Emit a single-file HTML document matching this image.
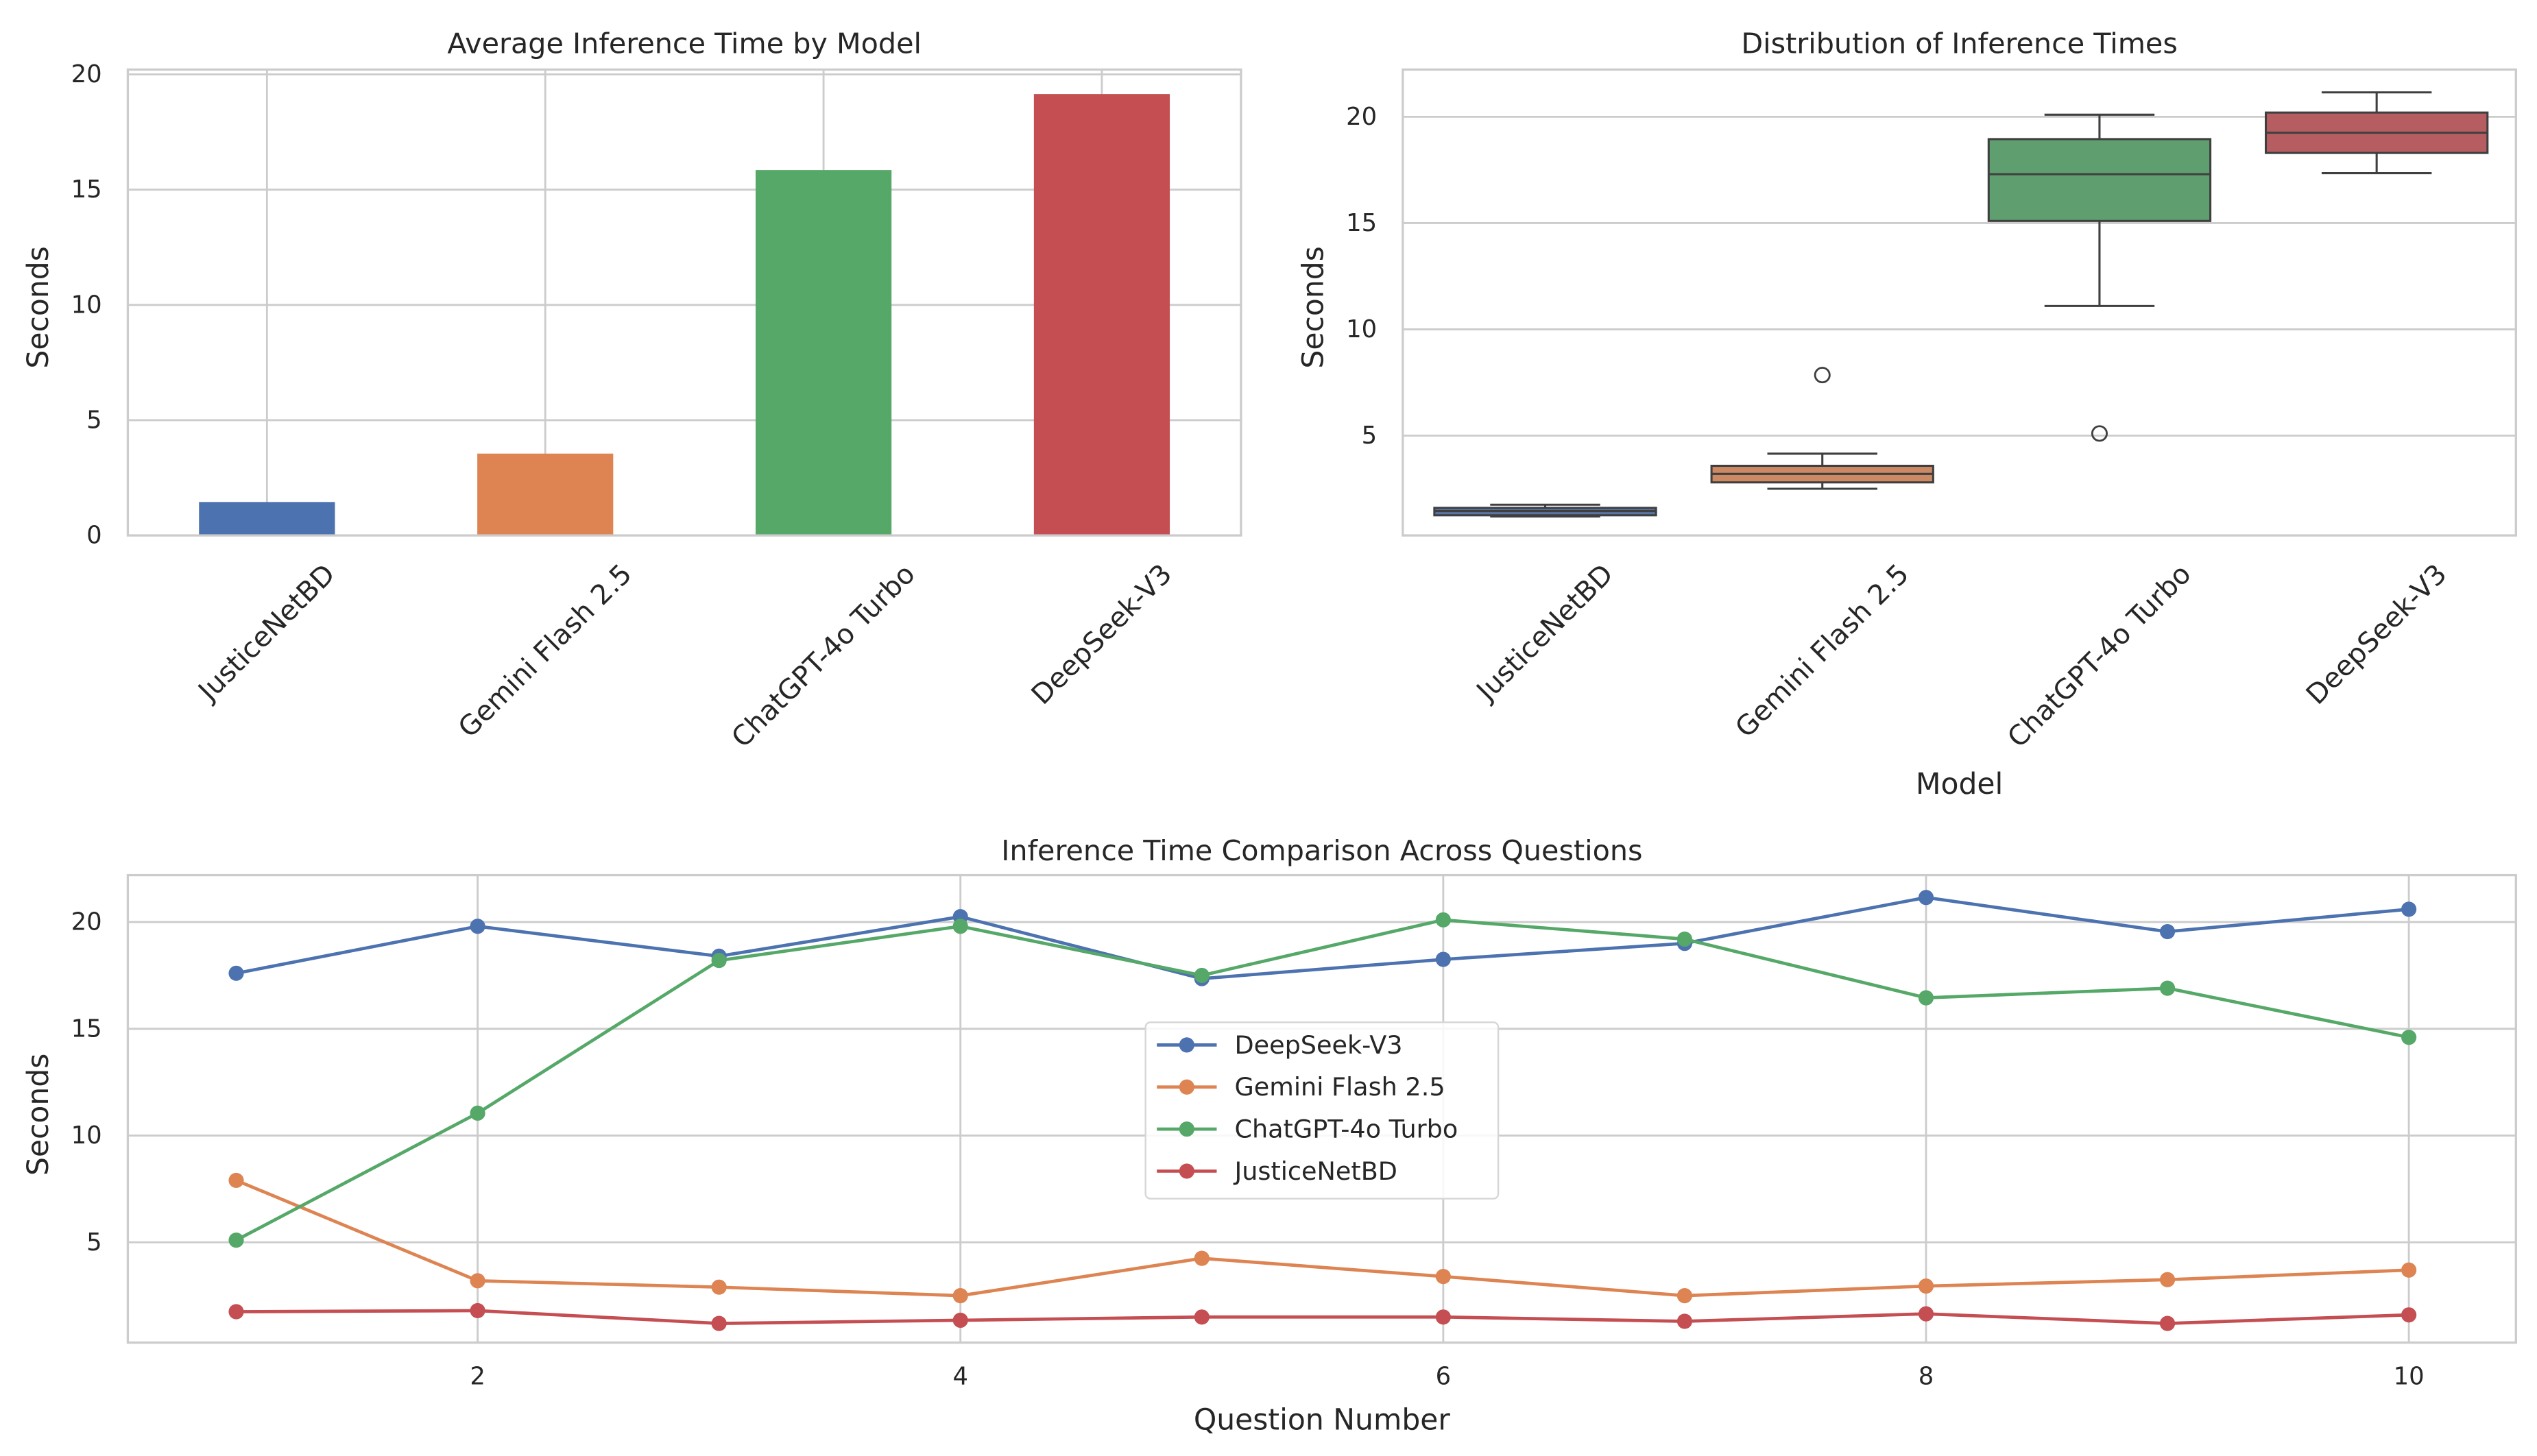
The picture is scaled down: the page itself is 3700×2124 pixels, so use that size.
<!DOCTYPE html>
<html><head><meta charset="utf-8">
<style>
html,body{margin:0;padding:0;background:#fff;}
svg{display:block;font-family:"DejaVu Sans","Liberation Sans",sans-serif;}
</style></head>
<body>
<svg id="fig" width="3700" height="2124" viewBox="0 0 1568 900.1" xmlns="http://www.w3.org/2000/svg">
<rect width="1568" height="900.1" fill="#fff"/>
</svg>
<script>
// ---- data ----
const models = ["JusticeNetBD","Gemini Flash 2.5","ChatGPT-4o Turbo","DeepSeek-V3"];
const avgTimes = [1.45, 3.55, 15.85, 19.15];
const barTicks = [0,5,10,15,20];
const boxQ1 = [1.25, 2.8, 15.1, 18.3];
const boxMedian = [1.45, 3.2, 17.3, 19.25];
const boxQ3 = [1.6, 3.58, 18.95, 20.2];
const boxLow = [1.2, 2.5, 11.1, 17.35];
const boxHigh = [1.75, 4.15, 20.1, 21.15];
const boxOutlierModel = [1, 2];
const boxOutlierValue = [7.85, 5.1];
const boxTicks = [5,10,15,20];
const questions = [1,2,3,4,5,6,7,8,9,10];
const deepseek = [17.6,19.8,18.4,20.25,17.35,18.25,19.0,21.15,19.55,20.6];
const gemini = [7.9,3.2,2.9,2.5,4.25,3.4,2.5,2.95,3.25,3.7];
const chatgpt = [5.1,11.05,18.2,19.8,17.5,20.1,19.2,16.45,16.9,14.6];
const justice = [1.75,1.8,1.2,1.35,1.5,1.5,1.3,1.65,1.2,1.6];
const lineXTicks = [2,4,6,8,10];
const lineYTicks = [5,10,15,20];

const NS="http://www.w3.org/2000/svg";
const svg=document.getElementById('fig');
function mk(tag,attrs,parent,text){const e=document.createElementNS(NS,tag);for(const k in attrs)e.setAttribute(k,attrs[k]);if(text!==undefined)e.textContent=text;(parent||svg).appendChild(e);return e;}
const GRID="#cccccc", TXT="#262626";
const C=["#4c72b0","#dd8452","#55a868","#c44e52"];
const CB=["#5975a4","#cc8963","#5f9e6e","#b55d60"];

function axesFrame(g,L,R,T,B){
  const r=mk('rect',{x:L,y:T,width:R-L,height:B-T,fill:'none',stroke:GRID,'stroke-width':1.4},g);
  
}
function rotLabel(g,text,cx,top){
  const t=mk('text',{x:0,y:0,'font-size':17,fill:TXT,'text-anchor':'middle','dominant-baseline':'central'},g,text);
  
  const w=t.getComputedTextLength(),h=17;
  const d=(w+h)*Math.SQRT1_2/2;
  t.setAttribute('transform',`translate(${cx},${top+d}) rotate(-45)`);
}

// ---- Chart 1: bar ----
(function(){
  const g=mk('g',{});
  const L=79,R=767,T=43,B=331;
  const y=v=>331-v*14.25;
  const x=i=>165+i*172;
  barTicks.forEach(v=>{
    const l=mk('line',{x1:L,x2:R,y1:y(v),y2:y(v),stroke:GRID,'stroke-width':1.2},g);
    const t=mk('text',{x:63,y:y(v),'font-size':15,fill:TXT,'text-anchor':'end','dominant-baseline':'central'},g,v);
  });
  models.forEach((m,i)=>{
    const l=mk('line',{x1:x(i),x2:x(i),y1:T,y2:B,stroke:GRID,'stroke-width':1.2},g);
  });
  models.forEach((m,i)=>{
    const r=mk('rect',{x:x(i)-42,y:y(avgTimes[i]),width:84,height:y(0)-y(avgTimes[i]),fill:C[i]},g);
    
    rotLabel(g,m,x(i),346);
  });
  axesFrame(g,L,R,T,B);
  const t=mk('text',{x:423,y:27,'font-size':17.5,fill:TXT,'text-anchor':'middle','dominant-baseline':'central'},g,'Average Inference Time by Model');
  const yl=mk('text',{x:0,y:0,'font-size':18,fill:TXT,'text-anchor':'middle','dominant-baseline':'central',transform:'translate(24,190) rotate(-90)'},g,'Seconds');
})();

// ---- Chart 2: box ----
(function(){
  const g=mk('g',{});
  const L=867,R=1555,T=43,B=331;
  const y=v=>335-v*13.14;
  const x=i=>955+i*171.3;
  boxTicks.forEach(v=>{
    const l=mk('line',{x1:L,x2:R,y1:y(v),y2:y(v),stroke:GRID,'stroke-width':1.2},g);
    const t=mk('text',{x:851,y:y(v),'font-size':15,fill:TXT,'text-anchor':'end','dominant-baseline':'central'},g,v);
  });
  const EC="#3f3f3f",hw=68.5;
  models.forEach((m,i)=>{
    const bg=mk('g',{},g);
    const cx=x(i);
    mk('line',{x1:cx,x2:cx,y1:y(boxQ3[i]),y2:y(boxHigh[i]),stroke:EC,'stroke-width':1.3},bg);
    mk('line',{x1:cx,x2:cx,y1:y(boxQ1[i]),y2:y(boxLow[i]),stroke:EC,'stroke-width':1.3},bg);
    mk('line',{x1:cx-34,x2:cx+34,y1:y(boxHigh[i]),y2:y(boxHigh[i]),stroke:EC,'stroke-width':1.3},bg);
    mk('line',{x1:cx-34,x2:cx+34,y1:y(boxLow[i]),y2:y(boxLow[i]),stroke:EC,'stroke-width':1.3},bg);
    mk('rect',{x:cx-hw,y:y(boxQ3[i]),width:2*hw,height:y(boxQ1[i])-y(boxQ3[i]),fill:CB[i],stroke:EC,'stroke-width':1.3},bg);
    mk('line',{x1:cx-hw,x2:cx+hw,y1:y(boxMedian[i]),y2:y(boxMedian[i]),stroke:EC,'stroke-width':1.3},bg);
    rotLabel(g,m,cx,346);
  });
  boxOutlierModel.forEach((mi,k)=>{
    const c=mk('circle',{cx:x(mi),cy:y(boxOutlierValue[k]),r:4.5,fill:'none',stroke:EC,'stroke-width':1.2},g);
    
  });
  axesFrame(g,L,R,T,B);
  const t=mk('text',{x:1211,y:27,'font-size':17.5,fill:TXT,'text-anchor':'middle','dominant-baseline':'central'},g,'Distribution of Inference Times');
  const yl=mk('text',{x:0,y:0,'font-size':18,fill:TXT,'text-anchor':'middle','dominant-baseline':'central',transform:'translate(812,190) rotate(-90)'},g,'Seconds');
  const xl=mk('text',{x:1211,y:485,'font-size':18,fill:TXT,'text-anchor':'middle','dominant-baseline':'central'},g,'Model');
})();

// ---- Chart 3: lines ----
(function(){
  const g=mk('g',{});
  const L=79,R=1555,T=541,B=830;
  const x=q=>146+(q-1)*149.2;
  const y=v=>834-v*13.2;
  lineYTicks.forEach(v=>{
    const l=mk('line',{x1:L,x2:R,y1:y(v),y2:y(v),stroke:GRID,'stroke-width':1.2},g);
    const t=mk('text',{x:63,y:y(v),'font-size':15,fill:TXT,'text-anchor':'end','dominant-baseline':'central'},g,v);
  });
  lineXTicks.forEach(v=>{
    const l=mk('line',{x1:x(v),x2:x(v),y1:T,y2:B,stroke:GRID,'stroke-width':1.2},g);
    const t=mk('text',{x:x(v),y:851,'font-size':15,fill:TXT,'text-anchor':'middle','dominant-baseline':'central'},g,v);
  });
  const series=[["DeepSeek-V3",deepseek,C[0]],["Gemini Flash 2.5",gemini,C[1]],["ChatGPT-4o Turbo",chatgpt,C[2]],["JusticeNetBD",justice,C[3]]];
  series.forEach(([name,vals,col])=>{
    const sg=mk('g',{},g);
    const pts=vals.map((v,i)=>x(questions[i])+','+y(v)).join(' ');
    mk('polyline',{points:pts,fill:'none',stroke:col,'stroke-width':2,'stroke-linejoin':'round'},sg);
    vals.forEach((v,i)=>{const c=mk('circle',{cx:x(questions[i]),cy:y(v),r:4.7,fill:col},sg);});
  });
  axesFrame(g,L,R,T,B);
  const lg=mk('g',{},g);
  mk('rect',{x:708,y:632,width:218,height:109,rx:3,fill:'#fff','fill-opacity':0.85,stroke:'#d6d6d6','stroke-width':1},lg);
  series.forEach(([name,vals,col],k)=>{
    const eg=mk('g',{},lg);
    const yy=646+k*26;
    mk('line',{x1:715,x2:752,y1:yy,y2:yy,stroke:col,'stroke-width':2},eg);
    mk('circle',{cx:733.5,cy:yy,r:4.7,fill:col},eg);
    mk('text',{x:763,y:yy,'font-size':15.5,fill:TXT,'dominant-baseline':'central'},eg,name);
  });
  const t=mk('text',{x:817,y:526,'font-size':17.5,fill:TXT,'text-anchor':'middle','dominant-baseline':'central'},g,'Inference Time Comparison Across Questions');
  const yl=mk('text',{x:0,y:0,'font-size':18,fill:TXT,'text-anchor':'middle','dominant-baseline':'central',transform:'translate(24,689) rotate(-90)'},g,'Seconds');
  const xl=mk('text',{x:817,y:878,'font-size':18,fill:TXT,'text-anchor':'middle','dominant-baseline':'central'},g,'Question Number');
})();
</script>
</body></html>
